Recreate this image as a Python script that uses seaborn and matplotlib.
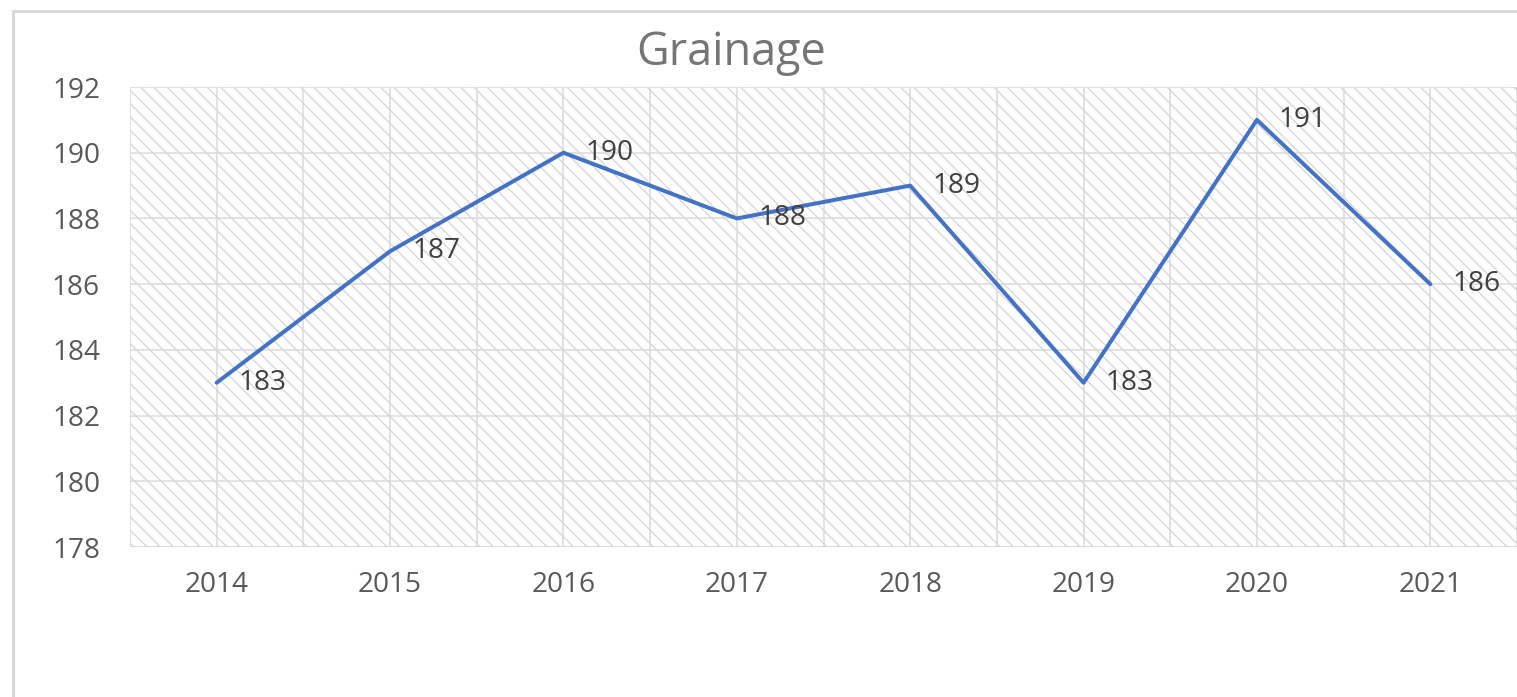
import matplotlib
matplotlib.use("Agg")
import matplotlib.pyplot as plt
import seaborn as sns
import pandas as pd
from matplotlib.lines import Line2D
from matplotlib.patches import Rectangle

# data
years = ["2014", "2015", "2016", "2017", "2018", "2019", "2020", "2021"]
values = [183, 187, 190, 188, 189, 183, 191, 186]
y_ticks = [178, 180, 182, 184, 186, 188, 190, 192]
title = "Grainage"

LINE = "#4472C4"
GRID = "#d9d9d9"
HATCH = "#d6d6d6"
TICK_TXT = "#595959"
LABEL_TXT = "#404040"

DPI = 80  # hatch spacing scales with dpi


def pt(px):
    # pixel size -> points at the chosen dpi
    return px * 72 / DPI


sns.set_theme(style="white")
plt.rcParams["font.family"] = ["Open Sans", "DejaVu Sans"]
plt.rcParams["hatch.linewidth"] = pt(1.3)
plt.rcParams["hatch.color"] = HATCH

df = pd.DataFrame({"year": years, "value": values})

fig = plt.figure(figsize=(1517 / DPI, 697 / DPI), dpi=DPI)
ax = fig.add_axes([130 / 1517, 1 - 547 / 697, 1 - 130 / 1517, (547 - 87) / 697])

# hatched plot background
ax.add_patch(Rectangle((0, 0), 1, 1, transform=ax.transAxes, facecolor="white",
                       edgecolor=HATCH, hatch="\\\\", linewidth=0, zorder=0))

sns.lineplot(data=df, x="year", y="value", ax=ax, color=LINE, linewidth=pt(4),
             sort=False, zorder=3)

ax.set_xlim(-0.5, len(years) - 0.5)
ax.set_ylim(y_ticks[0], y_ticks[-1])
ax.set_yticks(y_ticks)
ax.set_xticks(range(len(years)))
ax.set_xticklabels(years)

# gridlines every half category and every y tick
for i in range(2 * len(years) + 1):
    ax.axvline(-0.5 + i * 0.5, color=GRID, linewidth=pt(1.5), zorder=1)
for v in y_ticks:
    ax.axhline(v, color=GRID, linewidth=pt(1.5), zorder=1)

for s in ax.spines.values():
    s.set_visible(False)
ax.axhline(y_ticks[0], color=GRID, linewidth=pt(2.5), zorder=2)

ax.tick_params(axis="both", length=0, labelsize=pt(28), colors=TICK_TXT)
ax.tick_params(axis="y", pad=pt(30))
ax.tick_params(axis="x", pad=pt(24))
ax.set_xlabel("")
ax.set_ylabel("")

for i, v in enumerate(values):
    ax.annotate(str(v), (i, v), xytext=(22, 0), textcoords="offset pixels",
                ha="left", va="center", fontsize=pt(28), color=LABEL_TXT, zorder=4)

fig.text(731 / 1517, 1 - 53 / 697, title, ha="center", va="center",
         fontsize=pt(45), color="#757575")

# outer chart border (cropped on right and bottom)
fig.add_artist(Line2D([13 / 1517, 1], [1 - 11 / 697] * 2, transform=fig.transFigure,
                      color=GRID, linewidth=pt(3)))
fig.add_artist(Line2D([13 / 1517] * 2, [0, 1 - 11 / 697], transform=fig.transFigure,
                      color=GRID, linewidth=pt(3)))

fig.savefig("out.png", dpi=DPI)
